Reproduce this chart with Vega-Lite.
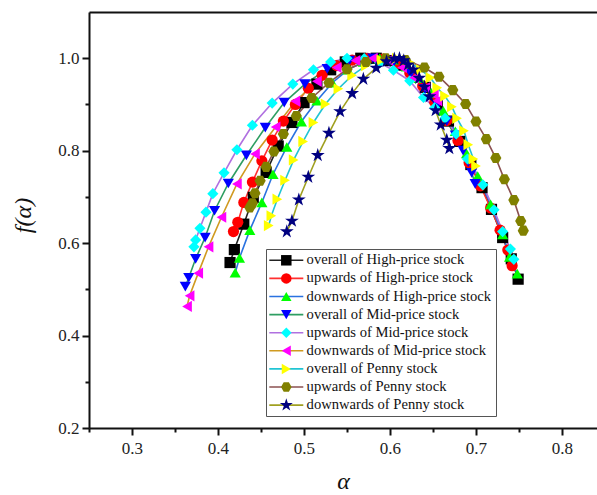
{
  "$schema": "https://vega.github.io/schema/vega-lite/v6.json",
  "width": 508,
  "height": 416,
  "autosize": "none",
  "padding": {"left": 89, "top": 12, "right": 0, "bottom": 67},
  "background": "white",
  "config": {"view": {"stroke": null}, "font": "Liberation Serif"},
  "datasets": {
    "pts": [
      {"s":"overall of High-price stock","a":0.414,"f":0.558},{"s":"overall of High-price stock","a":0.419,"f":0.586},{"s":"overall of High-price stock","a":0.430,"f":0.641},{"s":"overall of High-price stock","a":0.441,"f":0.699},{"s":"overall of High-price stock","a":0.456,"f":0.753},{"s":"overall of High-price stock","a":0.470,"f":0.810},{"s":"overall of High-price stock","a":0.486,"f":0.861},{"s":"overall of High-price stock","a":0.500,"f":0.904},{"s":"overall of High-price stock","a":0.515,"f":0.944},{"s":"overall of High-price stock","a":0.531,"f":0.975},{"s":"overall of High-price stock","a":0.548,"f":0.992},{"s":"overall of High-price stock","a":0.566,"f":1.0},{"s":"overall of High-price stock","a":0.584,"f":1.0},{"s":"overall of High-price stock","a":0.600,"f":0.995},{"s":"overall of High-price stock","a":0.613,"f":0.985},{"s":"overall of High-price stock","a":0.627,"f":0.965},{"s":"overall of High-price stock","a":0.641,"f":0.937},{"s":"overall of High-price stock","a":0.655,"f":0.903},{"s":"overall of High-price stock","a":0.668,"f":0.864},{"s":"overall of High-price stock","a":0.681,"f":0.820},{"s":"overall of High-price stock","a":0.694,"f":0.770},{"s":"overall of High-price stock","a":0.707,"f":0.720},{"s":"overall of High-price stock","a":0.718,"f":0.673},{"s":"overall of High-price stock","a":0.731,"f":0.612},{"s":"overall of High-price stock","a":0.741,"f":0.566},{"s":"overall of High-price stock","a":0.749,"f":0.522},
      {"s":"upwards of High-price stock","a":0.418,"f":0.625},{"s":"upwards of High-price stock","a":0.423,"f":0.645},{"s":"upwards of High-price stock","a":0.430,"f":0.688},{"s":"upwards of High-price stock","a":0.440,"f":0.732},{"s":"upwards of High-price stock","a":0.451,"f":0.778},{"s":"upwards of High-price stock","a":0.463,"f":0.823},{"s":"upwards of High-price stock","a":0.476,"f":0.864},{"s":"upwards of High-price stock","a":0.490,"f":0.900},{"s":"upwards of High-price stock","a":0.505,"f":0.935},{"s":"upwards of High-price stock","a":0.521,"f":0.963},{"s":"upwards of High-price stock","a":0.538,"f":0.984},{"s":"upwards of High-price stock","a":0.556,"f":0.996},{"s":"upwards of High-price stock","a":0.574,"f":1.0},{"s":"upwards of High-price stock","a":0.592,"f":0.998},{"s":"upwards of High-price stock","a":0.608,"f":0.988},{"s":"upwards of High-price stock","a":0.623,"f":0.968},{"s":"upwards of High-price stock","a":0.638,"f":0.940},{"s":"upwards of High-price stock","a":0.652,"f":0.905},{"s":"upwards of High-price stock","a":0.666,"f":0.865},{"s":"upwards of High-price stock","a":0.679,"f":0.822},{"s":"upwards of High-price stock","a":0.692,"f":0.774},{"s":"upwards of High-price stock","a":0.705,"f":0.724},{"s":"upwards of High-price stock","a":0.717,"f":0.676},{"s":"upwards of High-price stock","a":0.728,"f":0.628},{"s":"upwards of High-price stock","a":0.737,"f":0.585},{"s":"upwards of High-price stock","a":0.742,"f":0.551},
      {"s":"downwards of High-price stock","a":0.420,"f":0.536},{"s":"downwards of High-price stock","a":0.425,"f":0.568},{"s":"downwards of High-price stock","a":0.437,"f":0.628},{"s":"downwards of High-price stock","a":0.451,"f":0.688},{"s":"downwards of High-price stock","a":0.464,"f":0.749},{"s":"downwards of High-price stock","a":0.480,"f":0.808},{"s":"downwards of High-price stock","a":0.497,"f":0.863},{"s":"downwards of High-price stock","a":0.515,"f":0.908},{"s":"downwards of High-price stock","a":0.533,"f":0.947},{"s":"downwards of High-price stock","a":0.551,"f":0.975},{"s":"downwards of High-price stock","a":0.569,"f":0.992},{"s":"downwards of High-price stock","a":0.588,"f":1.0},{"s":"downwards of High-price stock","a":0.604,"f":0.997},{"s":"downwards of High-price stock","a":0.619,"f":0.982},{"s":"downwards of High-price stock","a":0.634,"f":0.957},{"s":"downwards of High-price stock","a":0.648,"f":0.925},{"s":"downwards of High-price stock","a":0.662,"f":0.886},{"s":"downwards of High-price stock","a":0.676,"f":0.842},{"s":"downwards of High-price stock","a":0.689,"f":0.794},{"s":"downwards of High-price stock","a":0.702,"f":0.745},{"s":"downwards of High-price stock","a":0.717,"f":0.684},{"s":"downwards of High-price stock","a":0.731,"f":0.619},{"s":"downwards of High-price stock","a":0.739,"f":0.570},{"s":"downwards of High-price stock","a":0.748,"f":0.534},
      {"s":"overall of Mid-price stock","a":0.362,"f":0.506},{"s":"overall of Mid-price stock","a":0.366,"f":0.525},{"s":"overall of Mid-price stock","a":0.374,"f":0.566},{"s":"overall of Mid-price stock","a":0.385,"f":0.612},{"s":"overall of Mid-price stock","a":0.396,"f":0.670},{"s":"overall of Mid-price stock","a":0.412,"f":0.729},{"s":"overall of Mid-price stock","a":0.433,"f":0.790},{"s":"overall of Mid-price stock","a":0.455,"f":0.850},{"s":"overall of Mid-price stock","a":0.477,"f":0.904},{"s":"overall of Mid-price stock","a":0.501,"f":0.944},{"s":"overall of Mid-price stock","a":0.527,"f":0.977},{"s":"overall of Mid-price stock","a":0.553,"f":0.995},{"s":"overall of Mid-price stock","a":0.580,"f":1.0},{"s":"overall of Mid-price stock","a":0.604,"f":0.990},{"s":"overall of Mid-price stock","a":0.624,"f":0.966},{"s":"overall of Mid-price stock","a":0.641,"f":0.933},{"s":"overall of Mid-price stock","a":0.655,"f":0.898},{"s":"overall of Mid-price stock","a":0.666,"f":0.864},{"s":"overall of Mid-price stock","a":0.676,"f":0.833},{"s":"overall of Mid-price stock","a":0.685,"f":0.800},{"s":"overall of Mid-price stock","a":0.691,"f":0.775},{"s":"overall of Mid-price stock","a":0.695,"f":0.752},{"s":"overall of Mid-price stock","a":0.699,"f":0.728},
      {"s":"upwards of Mid-price stock","a":0.372,"f":0.592},{"s":"upwards of Mid-price stock","a":0.374,"f":0.607},{"s":"upwards of Mid-price stock","a":0.379,"f":0.632},{"s":"upwards of Mid-price stock","a":0.386,"f":0.667},{"s":"upwards of Mid-price stock","a":0.394,"f":0.707},{"s":"upwards of Mid-price stock","a":0.407,"f":0.752},{"s":"upwards of Mid-price stock","a":0.422,"f":0.802},{"s":"upwards of Mid-price stock","a":0.440,"f":0.855},{"s":"upwards of Mid-price stock","a":0.463,"f":0.903},{"s":"upwards of Mid-price stock","a":0.487,"f":0.944},{"s":"upwards of Mid-price stock","a":0.511,"f":0.975},{"s":"upwards of Mid-price stock","a":0.531,"f":0.992},{"s":"upwards of Mid-price stock","a":0.550,"f":1.0},{"s":"upwards of Mid-price stock","a":0.570,"f":0.999},{"s":"upwards of Mid-price stock","a":0.588,"f":0.990},{"s":"upwards of Mid-price stock","a":0.604,"f":0.974},{"s":"upwards of Mid-price stock","a":0.623,"f":0.951},{"s":"upwards of Mid-price stock","a":0.639,"f":0.915},{"s":"upwards of Mid-price stock","a":0.652,"f":0.893},{"s":"upwards of Mid-price stock","a":0.664,"f":0.870},{"s":"upwards of Mid-price stock","a":0.677,"f":0.836},{"s":"upwards of Mid-price stock","a":0.690,"f":0.782},{"s":"upwards of Mid-price stock","a":0.708,"f":0.726},{"s":"upwards of Mid-price stock","a":0.721,"f":0.672},{"s":"upwards of Mid-price stock","a":0.731,"f":0.625},{"s":"upwards of Mid-price stock","a":0.740,"f":0.587},{"s":"upwards of Mid-price stock","a":0.744,"f":0.565},
      {"s":"downwards of Mid-price stock","a":0.364,"f":0.463},{"s":"downwards of Mid-price stock","a":0.367,"f":0.486},{"s":"downwards of Mid-price stock","a":0.377,"f":0.535},{"s":"downwards of Mid-price stock","a":0.389,"f":0.592},{"s":"downwards of Mid-price stock","a":0.404,"f":0.656},{"s":"downwards of Mid-price stock","a":0.422,"f":0.728},{"s":"downwards of Mid-price stock","a":0.443,"f":0.793},{"s":"downwards of Mid-price stock","a":0.467,"f":0.851},{"s":"downwards of Mid-price stock","a":0.490,"f":0.907},{"s":"downwards of Mid-price stock","a":0.515,"f":0.950},{"s":"downwards of Mid-price stock","a":0.538,"f":0.980},{"s":"downwards of Mid-price stock","a":0.560,"f":0.995},{"s":"downwards of Mid-price stock","a":0.580,"f":1.0},{"s":"downwards of Mid-price stock","a":0.598,"f":0.996},{"s":"downwards of Mid-price stock","a":0.614,"f":0.980},{"s":"downwards of Mid-price stock","a":0.628,"f":0.958},{"s":"downwards of Mid-price stock","a":0.641,"f":0.936},{"s":"downwards of Mid-price stock","a":0.651,"f":0.921},{"s":"downwards of Mid-price stock","a":0.655,"f":0.908},
      {"s":"overall of Penny stock","a":0.459,"f":0.638},{"s":"overall of Penny stock","a":0.462,"f":0.659},{"s":"overall of Penny stock","a":0.469,"f":0.695},{"s":"overall of Penny stock","a":0.478,"f":0.736},{"s":"overall of Penny stock","a":0.488,"f":0.780},{"s":"overall of Penny stock","a":0.499,"f":0.820},{"s":"overall of Penny stock","a":0.511,"f":0.861},{"s":"overall of Penny stock","a":0.525,"f":0.901},{"s":"overall of Penny stock","a":0.540,"f":0.934},{"s":"overall of Penny stock","a":0.556,"f":0.963},{"s":"overall of Penny stock","a":0.572,"f":0.984},{"s":"overall of Penny stock","a":0.590,"f":0.996},{"s":"overall of Penny stock","a":0.608,"f":1.0},{"s":"overall of Penny stock","a":0.624,"f":0.990},{"s":"overall of Penny stock","a":0.636,"f":0.975},{"s":"overall of Penny stock","a":0.647,"f":0.958},{"s":"overall of Penny stock","a":0.655,"f":0.936},{"s":"overall of Penny stock","a":0.664,"f":0.918},{"s":"overall of Penny stock","a":0.672,"f":0.895},{"s":"overall of Penny stock","a":0.678,"f":0.870},{"s":"overall of Penny stock","a":0.686,"f":0.843},{"s":"overall of Penny stock","a":0.691,"f":0.813},{"s":"overall of Penny stock","a":0.697,"f":0.782},{"s":"overall of Penny stock","a":0.700,"f":0.767},
      {"s":"upwards of Penny stock","a":0.437,"f":0.677},{"s":"upwards of Penny stock","a":0.440,"f":0.686},{"s":"upwards of Penny stock","a":0.443,"f":0.708},{"s":"upwards of Penny stock","a":0.449,"f":0.735},{"s":"upwards of Penny stock","a":0.456,"f":0.765},{"s":"upwards of Penny stock","a":0.465,"f":0.798},{"s":"upwards of Penny stock","a":0.476,"f":0.836},{"s":"upwards of Penny stock","a":0.491,"f":0.875},{"s":"upwards of Penny stock","a":0.509,"f":0.914},{"s":"upwards of Penny stock","a":0.529,"f":0.947},{"s":"upwards of Penny stock","a":0.550,"f":0.976},{"s":"upwards of Penny stock","a":0.572,"f":0.992},{"s":"upwards of Penny stock","a":0.595,"f":1.0},{"s":"upwards of Penny stock","a":0.618,"f":0.996},{"s":"upwards of Penny stock","a":0.640,"f":0.980},{"s":"upwards of Penny stock","a":0.657,"f":0.960},{"s":"upwards of Penny stock","a":0.673,"f":0.931},{"s":"upwards of Penny stock","a":0.688,"f":0.901},{"s":"upwards of Penny stock","a":0.700,"f":0.863},{"s":"upwards of Penny stock","a":0.712,"f":0.825},{"s":"upwards of Penny stock","a":0.723,"f":0.784},{"s":"upwards of Penny stock","a":0.733,"f":0.738},{"s":"upwards of Penny stock","a":0.744,"f":0.693},{"s":"upwards of Penny stock","a":0.752,"f":0.648},{"s":"upwards of Penny stock","a":0.755,"f":0.627},
      {"s":"downwards of Penny stock","a":0.480,"f":0.625},{"s":"downwards of Penny stock","a":0.486,"f":0.648},{"s":"downwards of Penny stock","a":0.494,"f":0.694},{"s":"downwards of Penny stock","a":0.505,"f":0.743},{"s":"downwards of Penny stock","a":0.516,"f":0.790},{"s":"downwards of Penny stock","a":0.529,"f":0.838},{"s":"downwards of Penny stock","a":0.542,"f":0.885},{"s":"downwards of Penny stock","a":0.556,"f":0.924},{"s":"downwards of Penny stock","a":0.569,"f":0.955},{"s":"downwards of Penny stock","a":0.584,"f":0.979},{"s":"downwards of Penny stock","a":0.596,"f":0.993},{"s":"downwards of Penny stock","a":0.605,"f":0.999},{"s":"downwards of Penny stock","a":0.611,"f":1.0},{"s":"downwards of Penny stock","a":0.616,"f":0.995},{"s":"downwards of Penny stock","a":0.621,"f":0.986},{"s":"downwards of Penny stock","a":0.627,"f":0.975},{"s":"downwards of Penny stock","a":0.634,"f":0.957},{"s":"downwards of Penny stock","a":0.640,"f":0.938},{"s":"downwards of Penny stock","a":0.646,"f":0.917},{"s":"downwards of Penny stock","a":0.653,"f":0.887},{"s":"downwards of Penny stock","a":0.659,"f":0.856},{"s":"downwards of Penny stock","a":0.666,"f":0.823},{"s":"downwards of Penny stock","a":0.669,"f":0.805}
    ]
  },
  "data": {"name": "pts"},
  "resolve": {"axis": {"x": "independent", "y": "independent"}},
  "layer": [
    {
      "mark": {"type": "line", "strokeWidth": 1.6, "clip": true},
      "encoding": {
        "x": {"field": "a", "type": "quantitative", "scale": {"domain": [0.25, 0.8407], "nice": false, "zero": false},
          "axis": {"orient": "bottom", "values": [0.3, 0.4, 0.5, 0.6, 0.7, 0.8], "format": ".1f", "title": "α", "titleFont": "Liberation Serif", "titleFontStyle": "italic", "titleFontWeight": "normal", "titleFontSize": 24, "titlePadding": 13, "titleColor": "#111", "labelFont": "Liberation Serif", "labelFontSize": 17, "labelColor": "#222", "labelPadding": 5, "tickSize": 7, "tickWidth": 2, "tickColor": "#111", "domainColor": "#111", "domainWidth": 2, "grid": false, "labelFlush": false}},
        "y": {"field": "f", "type": "quantitative", "scale": {"domain": [0.2, 1.1], "nice": false, "zero": false},
          "axis": {"orient": "left", "values": [0.2, 0.4, 0.6, 0.8, 1.0], "format": ".1f", "title": "f(α)", "titleFont": "Liberation Serif", "titleFontStyle": "italic", "titleFontWeight": "normal", "titleFontSize": 24, "titleX": -66, "titleY": 203, "titleBaseline": "middle", "titleAngle": -90, "titleColor": "#111", "labelFont": "Liberation Serif", "labelFontSize": 17, "labelColor": "#222", "labelPadding": 3, "tickSize": 7, "tickWidth": 2, "tickColor": "#111", "domainColor": "#111", "domainWidth": 2, "grid": false, "labelFlush": false}},
        "stroke": {"field": "s", "type": "nominal", "sort": null,
          "scale": {"range": ["#222222", "#ff3030", "#2a72e0", "#2e9e62", "#b070e0", "#d09a20", "#20c4d4", "#8b5050", "#a0a020"]},
          "legend": {"title": null, "orient": "none", "legendX": 177, "legendY": 237, "padding": 4, "strokeColor": "#555", "fillColor": "white", "labelFont": "Liberation Serif", "labelFontSize": 14.6, "labelColor": "#111", "symbolType": "M-3.4,0H3.4", "symbolSize": 100, "symbolStrokeWidth": 1.6, "rowPadding": 3.1, "symbolOffset": 9, "labelOffset": 13, "labelLimit": 300, "zindex": 0}
        }
      }
    },
    {
      "mark": {"type": "point", "filled": true, "size": 125, "opacity": 1},
      "encoding": {
        "x": {"field": "a", "type": "quantitative", "scale": {"domain": [0.25, 0.8407], "nice": false, "zero": false},
          "axis": {"orient": "bottom", "values": [0.25, 0.35, 0.45, 0.55, 0.65, 0.75], "labels": false, "title": null, "domain": false, "grid": false, "tickSize": 4, "tickWidth": 2, "tickColor": "#111"}},
        "y": {"field": "f", "type": "quantitative", "scale": {"domain": [0.2, 1.1], "nice": false, "zero": false},
          "axis": {"orient": "left", "values": [0.3, 0.5, 0.7, 0.9], "labels": false, "title": null, "domain": false, "grid": false, "tickSize": 4, "tickWidth": 2, "tickColor": "#111"}},
        "fill": {"field": "s", "type": "nominal",
          "scale": {"domain": ["overall of High-price stock", "upwards of High-price stock", "downwards of High-price stock", "overall of Mid-price stock", "upwards of Mid-price stock", "downwards of Mid-price stock", "overall of Penny stock", "upwards of Penny stock", "downwards of Penny stock"],
            "range": ["#000000", "#ff0000", "#00ff00", "#0000ff", "#00ffff", "#ff00ff", "#ffff00", "#808000", "#000080"]},
          "legend": {"title": null, "orient": "none", "legendX": 177, "legendY": 237, "padding": 4, "strokeColor": "transparent", "fillColor": "transparent", "labelFont": "Liberation Serif", "labelFontSize": 14.6, "labelColor": "#111", "labelOpacity": 0, "symbolSize": 110, "symbolStrokeWidth": 0, "rowPadding": 3.1, "symbolOffset": 9, "labelOffset": 13, "labelLimit": 300, "zindex": 1}},
        "shape": {"field": "s", "type": "nominal",
          "scale": {"domain": ["overall of High-price stock", "upwards of High-price stock", "downwards of High-price stock", "overall of Mid-price stock", "upwards of Mid-price stock", "downwards of Mid-price stock", "overall of Penny stock", "upwards of Penny stock", "downwards of Penny stock"],
            "range": ["square", "circle", "triangle-up", "triangle-down", "diamond", "triangle-left", "triangle-right", "M-0.5,-0.9L0.5,-0.9L1,0L0.5,0.9L-0.5,0.9L-1,0Z", "M0,-1.3L0.29,-0.4L1.24,-0.4L0.47,0.15L0.76,1.05L0,0.5L-0.76,1.05L-0.47,0.15L-1.24,-0.4L-0.29,-0.4Z"]},
          "legend": {"title": null, "orient": "none", "legendX": 177, "legendY": 237, "padding": 4, "strokeColor": "transparent", "fillColor": "transparent", "labelFont": "Liberation Serif", "labelFontSize": 14.6, "labelColor": "#111", "labelOpacity": 0, "symbolSize": 110, "symbolStrokeWidth": 0, "rowPadding": 3.1, "symbolOffset": 9, "labelOffset": 13, "labelLimit": 300, "zindex": 1}}
      }
    },
    {
      "mark": {"type": "point", "opacity": 0},
      "encoding": {
        "x": {"field": "a", "type": "quantitative", "scale": {"domain": [0.25, 0.8407], "nice": false, "zero": false},
          "axis": {"orient": "top", "labels": false, "ticks": false, "title": null, "grid": false, "domainColor": "#111", "domainWidth": 2}},
        "y": {"field": "f", "type": "quantitative", "scale": {"domain": [0.2, 1.1], "nice": false, "zero": false}, "axis": null}
      }
    }
  ]
}
